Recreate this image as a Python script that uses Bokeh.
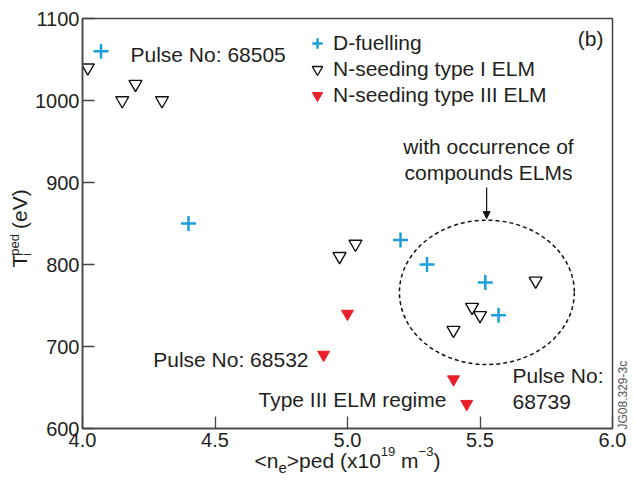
import math
from bokeh.plotting import figure
from bokeh.models import Range1d, FixedTicker, Label, Legend, LegendItem, Arrow, NormalHead, ColumnDataSource
from bokeh.core.properties import value
from bokeh.embed import file_html
from bokeh.resources import INLINE

# ---------------- data ----------------
d_fuel_x = [4.07, 4.40, 5.20, 5.30, 5.52, 5.57]
d_fuel_y = [1060, 850, 830, 800, 778, 738]
type1_x = [4.02, 4.15, 4.20, 4.30, 4.97, 5.03, 5.40, 5.47, 5.50, 5.71]
type1_y = [1040, 1000, 1020, 1000, 810, 825, 720, 748, 738, 780]
type3_x = [4.91, 5.00, 5.40, 5.45]
type3_y = [690, 740, 660, 630]

x_ticks = [4.0, 4.5, 5.0, 5.5, 6.0]
x_tick_labels = ["4.0", "4.5", "5.0", "5.5", "6.0"]
y_ticks = [600, 700, 800, 900, 1000, 1100]
y_tick_labels = ["600", "700", "800", "900", "1000", "1100"]

series_names = ["D-fuelling", "N-seeding type I ELM", "N-seeding type III ELM"]

# compound-ELM region (ellipse) and its annotation arrow
region_x, region_y, region_w, region_h = 5.526, 766, 0.66, 176
arrow_x, arrow_y0, arrow_y1 = 5.525, 894, 856

FONT = "Liberation Sans"
TXT = "#231f20"
AX = "#444444"
BLUE = "#1ea0dc"
RED = "#e8202a"

W, H = 634, 482
BL, BR, BT, BB = 82, 22, 18, 54
X0, X1, Y0, Y1 = 4.0, 6.0, 600, 1100
FW, FH = W - BL - BR, H - BT - BB


def px2x(px):
    return X0 + (px - BL) * (X1 - X0) / FW


def py2y(py):
    return Y0 + (H - BB - py) * (Y1 - Y0) / FH


p = figure(width=W, height=H, output_backend="svg", toolbar_location=None,
           x_range=Range1d(X0, X1), y_range=Range1d(Y0, Y1),
           min_border_left=BL, min_border_right=BR, min_border_top=BT, min_border_bottom=BB)
p.background_fill_color = "white"
p.border_fill_color = "white"
p.xgrid.visible = False
p.ygrid.visible = False
p.outline_line_color = AX
p.outline_line_width = 1.5

for ax, ticks, labels in ((p.xaxis[0], x_ticks, x_tick_labels), (p.yaxis[0], y_ticks, y_tick_labels)):
    ax.ticker = FixedTicker(ticks=ticks)
    ax.major_label_overrides = {t: l for t, l in zip(ticks, labels)}
    ax.major_tick_in = 12
    ax.major_tick_out = 0
    ax.minor_tick_in = 0
    ax.minor_tick_out = 0
    ax.axis_line_color = AX
    ax.axis_line_width = 1.5
    ax.major_tick_line_color = AX
    ax.major_tick_line_width = 1.3
    ax.major_label_text_font = FONT
    ax.major_label_text_font_size = "20px"
    ax.major_label_text_color = TXT
    ax.axis_label = None
p.xaxis.major_label_standoff = 4
p.yaxis.major_label_standoff = 3

r_d = p.scatter(d_fuel_x, d_fuel_y, marker="cross", size=15, line_color=BLUE, line_width=2.5)
r_1 = p.scatter(type1_x, type1_y, marker="inverted_triangle", size=13, line_color="#111111",
                fill_color=None, line_width=1.4)
r_3 = p.scatter(type3_x, type3_y, marker="inverted_triangle", size=12, line_color=RED,
                fill_color=RED, line_width=1)

p.ellipse(x=[region_x], y=[region_y], width=[region_w], height=[region_h],
          fill_color=None, line_color="#111111", line_width=1.5, line_dash="4 3")
p.add_layout(Arrow(end=NormalHead(size=7, fill_color="#111111", line_color="#111111"),
                   x_start=arrow_x, y_start=arrow_y0, x_end=arrow_x, y_end=arrow_y1,
                   line_color="#111111", line_width=1.2))

legend = Legend(items=[LegendItem(label=series_names[0], renderers=[r_d]),
                       LegendItem(label=series_names[1], renderers=[r_1]),
                       LegendItem(label=series_names[2], renderers=[r_3])],
                location=(222, 320), glyph_width=26, glyph_height=26, label_height=26,
                spacing=0, label_standoff=3, padding=0, margin=0,
                border_line_alpha=0, background_fill_alpha=0,
                label_text_font=FONT, label_text_font_size="21px", label_text_color=TXT)
p.add_layout(legend)

LAB_SHIFT = 8  # px upward


def lab(text, px, py, align="left", size="21px"):
    p.add_layout(Label(x=px2x(px), y=py2y(py - LAB_SHIFT), text=text, text_align=align,
                       text_baseline="alphabetic", text_font=FONT, text_font_size=size,
                       text_color=TXT))


lab("Pulse No: 68505", 130, 62)
lab("Pulse No: 68532", 308, 367, align="right")
lab("Type III ELM regime", 258, 407)
lab("Pulse No:", 512, 383)
lab("68739", 512, 409)
lab("with occurrence of", 488, 154, align="center")
lab("compounds ELMs", 488, 180, align="center")
lab("(b)", 603, 46, align="right")

# ---- texts outside the frame (axis titles with sub/superscripts, figure id) ----
AW = {' ': 278, '(': 333, ')': 333, '<': 584, '>': 584, 'x': 500, 'm': 833, 'n': 556, 'e': 556,
      'p': 556, 'd': 556, 'T': 611, 'i': 222, 'V': 667, '\u2212': 584}
for c in "0123456789":
    AW[c] = 556


def tw(s, px):
    return sum(AW.get(c, 556) for c in s) * px / 1000.0


out = dict(x=[], y=[], text=[], size=[], angle=[], color=[])
COMP = 0.36  # baseline compensation, in em


def piece(s, px, py, fs, ang=0.0, color=TXT):
    if ang == 0.0:
        py = py - COMP * fs
    else:
        px = px - COMP * fs
    out["x"].append(px2x(px))
    out["y"].append(py2y(py))
    out["text"].append(s)
    out["size"].append(f"{fs}px")
    out["angle"].append(ang)
    out["color"].append(color)


# x title: <n_e>ped (x10^19 m^-3), centred on the frame
x_pieces = [("<n", 21, 0), ("e", 15, -5), (">ped", 21, 0), (" ", 21, 0), ("(x10", 21, 0),
            ("19", 13, 12), (" ", 21, 0), ("m", 21, 0), ("\u22123", 13, 12), (")", 21, 0)]
total = sum(tw(s, f) for s, f, _ in x_pieces)
cx = BL + FW / 2 - total / 2
base = H - BB + 40
for s, f, sh in x_pieces:
    if s.strip():
        piece(s, cx, base - sh, f)
    cx += tw(s, f)

# y title: T_i^ped (eV), reading bottom to top
bx, by = 27, 267
piece("T", bx, by, 21, math.pi / 2)
by -= tw("T", 21) - 1
piece("i", bx + 4, by, 12, math.pi / 2)
piece("ped", bx - 8, by, 13, math.pi / 2)
by -= tw("ped", 13) + 5
piece("(eV)", bx, by, 21, math.pi / 2)

piece("JG08.329-3c", 627, 429, 12, math.pi / 2, "#555555")

p.text(x="x", y="y", text="text", angle="angle", text_font_size="size", text_color="color",
       text_font=value(FONT), text_align="left", text_baseline="alphabetic",
       source=ColumnDataSource(out), level="overlay")

open("out.html", "w").write(file_html(p, INLINE))
